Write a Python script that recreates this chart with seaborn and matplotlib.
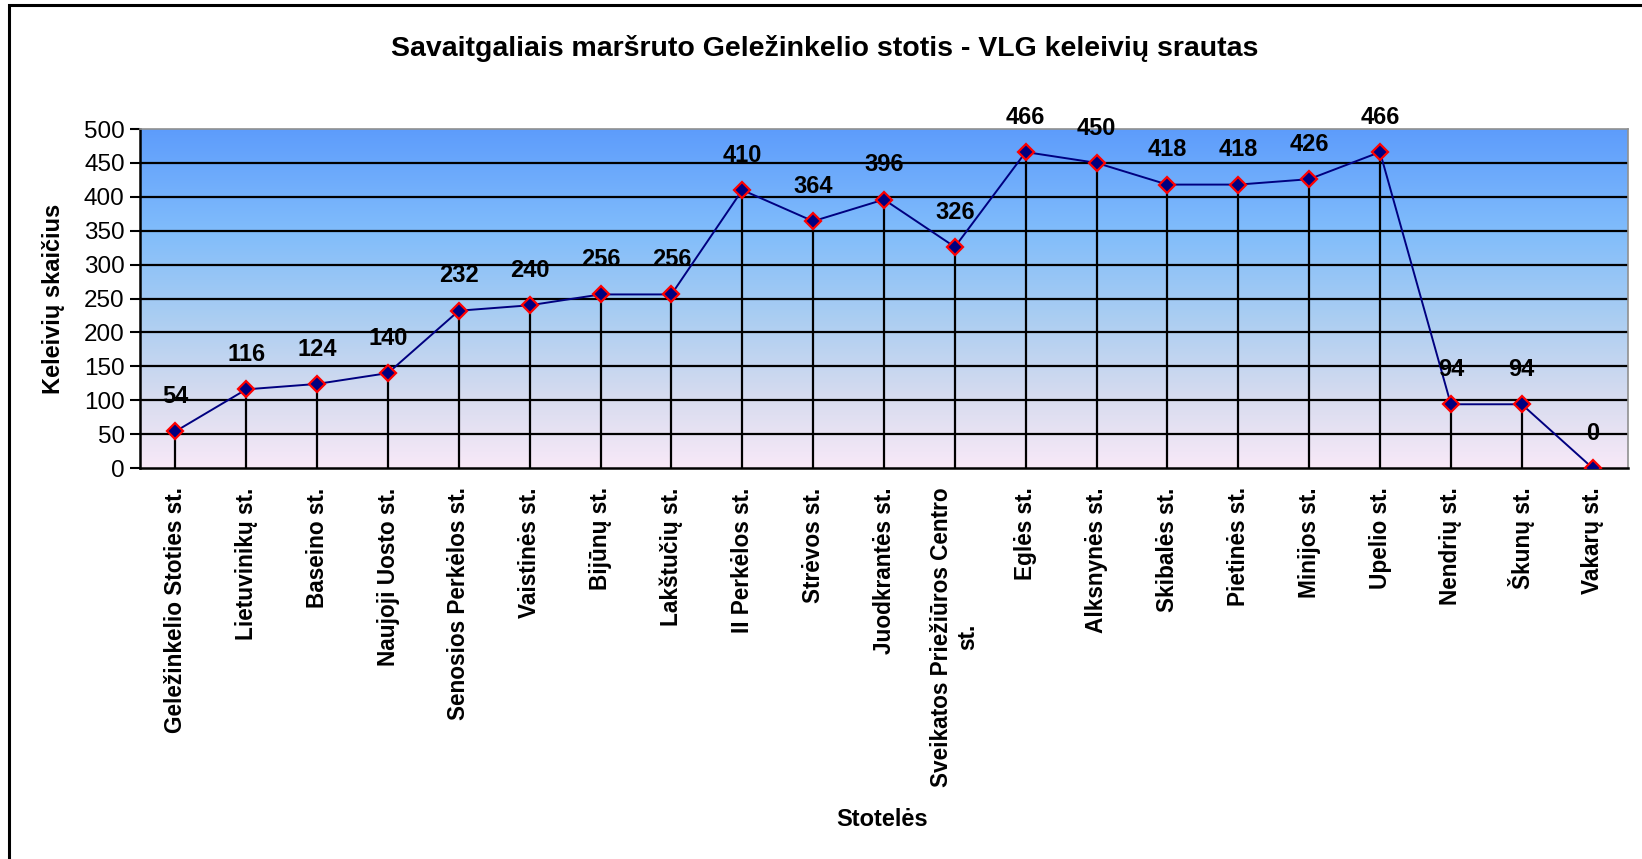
import numpy as np
import pandas as pd
import matplotlib
matplotlib.use("Agg")
import matplotlib.pyplot as plt
from matplotlib.colors import LinearSegmentedColormap
from matplotlib.patches import Rectangle
import seaborn as sns

# data
stops = ["Geležinkelio Stoties st.", "Lietuvinikų st.", "Baseino st.",
         "Naujoji Uosto st.", "Senosios Perkėlos st.", "Vaistinės st.",
         "Bijūnų st.", "Lakštučių st.", "II Perkėlos st.", "Strėvos st.",
         "Juodkrantės st.", "Sveikatos Priežiūros Centro\nst.", "Eglės st.",
         "Alksnynės st.", "Skibalės st.", "Pietinės st.", "Minijos st.",
         "Upelio st.", "Nendrių st.", "Škunų st.", "Vakarų st."]
passengers = [54, 116, 124, 140, 232, 240, 256, 256, 410, 364,
              396, 326, 466, 450, 418, 418, 426, 466, 94, 94, 0]
yticks = [0, 50, 100, 150, 200, 250, 300, 350, 400, 450, 500]

title = "Savaitgaliais maršruto Geležinkelio stotis - VLG keleivių srautas"
xlabel = "Stotelės"
ylabel = "Keleivių skaičius"

df = pd.DataFrame({"pos": np.arange(len(stops)), "n": passengers})

sns.set_style("white")
plt.rcParams["font.family"] = ["Liberation Sans", "DejaVu Sans"]
plt.rcParams.update({"text.color": "black", "axes.labelcolor": "black",
                     "xtick.color": "black", "ytick.color": "black"})

fig = plt.figure(figsize=(16.42, 8.59), dpi=100)
ax = fig.add_axes([140 / 1642, 1 - 468 / 859, (1628 - 140) / 1642, (468 - 129) / 859])

# outer frame (left and top visible only)
fig.patches.append(Rectangle((9 / 1642, -0.1), 1.2, 1 - 5 / 859 + 0.1,
                             transform=fig.transFigure, fill=False,
                             edgecolor="black", linewidth=2.2))

# gradient background
cmap = LinearSegmentedColormap.from_list(
    "bg", [(0.0, "#f8e9f8"), (0.2, "#d8dcef"), (0.45, "#a9cdf2"),
           (0.7, "#80bcfb"), (1.0, "#5d9cfc")])
grad = np.linspace(0, 1, 256).reshape(-1, 1)
ax.imshow(grad, cmap=cmap, origin="lower", aspect="auto",
          extent=[-0.5, len(stops) - 0.5, 0, 500], zorder=0)

for y in yticks[1:-1]:
    ax.axhline(y, color="black", linewidth=1.6, zorder=1)

ax.vlines(df["pos"], 0, df["n"], color="black", linewidth=1.6, zorder=2)

sns.lineplot(data=df, x="pos", y="n", ax=ax, color="#000080", linewidth=1.4,
             marker="D", markersize=8, markerfacecolor="#000080",
             markeredgecolor="red", markeredgewidth=1.6, zorder=3)

for p, v in zip(df["pos"], df["n"]):
    ax.annotate(str(v), (p, v), xytext=(0, 25), textcoords="offset points",
                ha="center", va="center", fontsize=17, fontweight="bold",
                annotation_clip=False, zorder=4)

ax.set_xlim(-0.5, len(stops) - 0.5)
ax.set_ylim(0, 500)
ax.set_yticks(yticks)
ax.set_yticklabels([str(t) for t in yticks], fontsize=17.5)
ax.set_xticks(df["pos"])
ax.set_xticklabels(stops, rotation=90, fontsize=16.3, fontweight="bold",
                   va="top", ha="center", multialignment="center")
ax.set_xticks(np.arange(-0.5, len(stops)), minor=True)
ax.tick_params(axis="x", which="major", length=0, pad=14)
ax.tick_params(axis="x", which="minor", length=7, width=1.5, color="black",
               direction="out")
ax.tick_params(axis="y", length=7, width=1.5, color="black",
               direction="out", left=True, pad=4)

for s in ["left", "bottom"]:
    ax.spines[s].set_color("black")
    ax.spines[s].set_linewidth(1.8)
for s in ["top", "right"]:
    ax.spines[s].set_color("#909090")
    ax.spines[s].set_linewidth(1.2)

ax.set_xlabel("")
ax.set_ylabel(ylabel, fontsize=17, fontweight="bold", labelpad=14)
fig.text(882 / 1642, 1 - 820 / 859, xlabel, ha="center", va="center",
         fontsize=17, fontweight="bold")
fig.text(825 / 1642, 1 - 48 / 859, title, ha="center", va="center",
         fontsize=20.5, fontweight="bold")

fig.savefig("out.png", dpi=100)
